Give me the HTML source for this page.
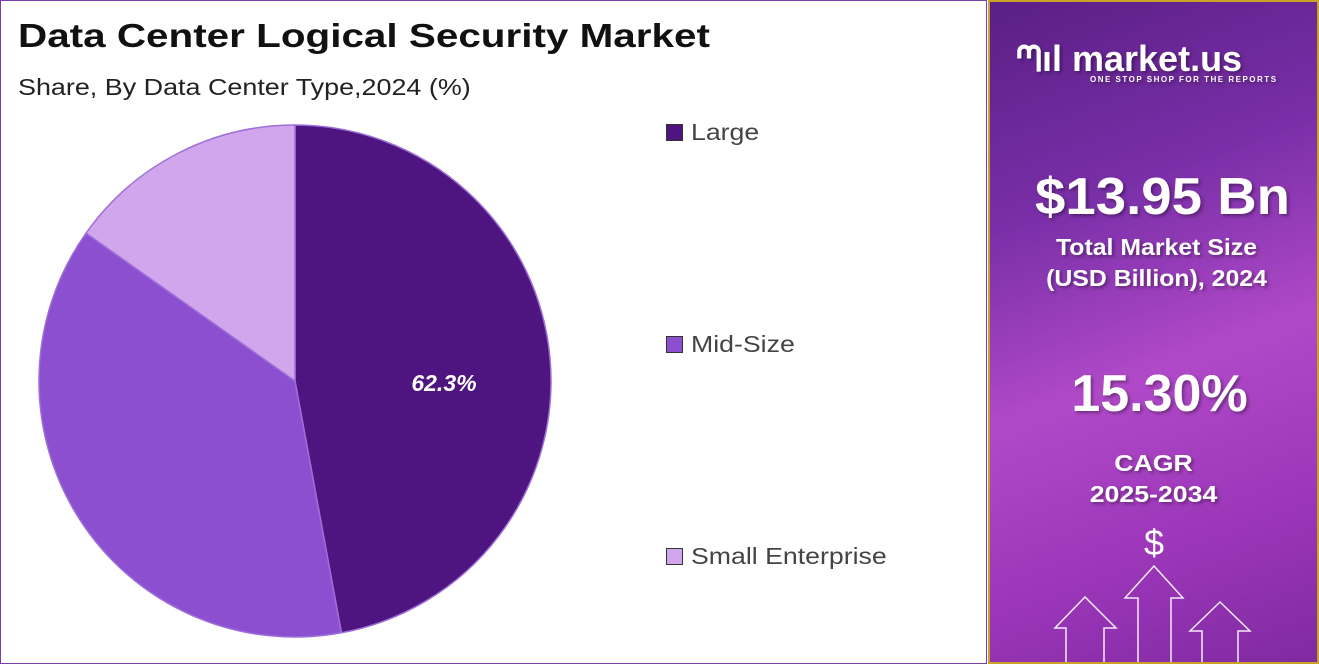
<!DOCTYPE html>
<html><head><meta charset="utf-8">
<style>
*{margin:0;padding:0;box-sizing:border-box}
body{width:1319px;height:664px;background:#fff;font-family:"Liberation Sans",sans-serif;position:relative;overflow:hidden}
#left{position:absolute;left:0;top:0;width:987px;height:664px;border:1.5px solid #7a3fa6;background:#fff}
#title{position:absolute;left:17px;top:16px;font-size:33px;font-weight:bold;color:#111;transform:scaleX(1.225);transform-origin:left top;white-space:nowrap}
#subtitle{position:absolute;left:17px;top:73px;font-size:23px;color:#222;transform:scaleX(1.17);transform-origin:left top;white-space:nowrap}
.leg{position:absolute;left:665px;font-size:23px;color:#444;display:flex;align-items:center;white-space:nowrap}
.leg i{display:inline-block;width:17px;height:17px;border:1.5px solid #333;margin-right:8px}
.leg span{display:inline-block;transform:scaleX(1.16);transform-origin:left center}
#right{position:absolute;left:988px;top:0;width:331px;height:664px;border:2px solid #c9a227;
background:linear-gradient(160deg,#5a1f86 0%,#7a2fa8 30%,#b049c8 55%,#9a35b8 80%,#7f2aa0 100%);color:#fff;text-align:center;overflow:hidden}
.t{position:absolute;width:100%;font-weight:bold;text-shadow:2px 2px 3px rgba(0,0,0,.35);white-space:nowrap}
</style></head><body>
<div id="left">
<div id="title">Data Center Logical Security Market</div>
<div id="subtitle">Share, By Data Center Type,2024 (%)</div>
<svg id="pie" width="987" height="664" style="position:absolute;left:0;top:0"></svg>
<div class="leg" style="top:118px"><i style="background:#4e1580"></i><span>Large</span></div>
<div class="leg" style="top:330px"><i style="background:#8b4fd0"></i><span>Mid-Size</span></div>
<div class="leg" style="top:542px"><i style="background:#d2a6ec"></i><span>Small Enterprise</span></div>
</div>
<div id="right">
<div class="t" style="top:36px;font-size:36px;left:26px;text-align:left">ᘉıl market.us</div>
<div class="t" style="top:73px;font-size:8px;left:100px;text-align:left;letter-spacing:1.5px">ONE STOP SHOP FOR THE REPORTS</div>
<div class="t" style="top:165px;font-size:52px;left:9px;transform:scaleX(1.05)">$13.95 Bn</div>
<div class="t" style="top:230px;font-size:23px;line-height:31px;left:3px;transform:scaleX(1.08)">Total Market Size<br>(USD Billion), 2024</div>
<div class="t" style="top:362px;font-size:52px;left:6px">15.30%</div>
<div class="t" style="top:446px;font-size:23px;line-height:31px;left:0px;transform:scaleX(1.16)">CAGR<br>2025-2034</div>
<div style="position:absolute;top:520px;left:154px;font-size:36px">$</div>
<svg width="331" height="664" style="position:absolute;left:-2px;top:-2px">
<g fill="none" stroke="#fff" stroke-width="1.5" opacity="0.9">
<path d="M150,664V598H137L166,566L195,598H183V664"/>
<path d="M78,664V628H67L97,597L128,628H116V664"/>
<path d="M214,664V631H202L232,602L262,631H250V664"/>
</g></svg>
</div>
<script>
const categories=["Large","Mid-Size","Small Enterprise"];
const values=[47.1,37.7,15.2];
const printedLabels=["62.3%","",""];
const colors=["#4e1580","#8b4fd0","#d2a6ec"];
const svg=document.getElementById('pie');
const NS='http://www.w3.org/2000/svg';
const cx=294,cy=380,r=256;
const total=values.reduce((a,b)=>a+b,0);
function pt(f,rr){const a=f*2*Math.PI;return [cx+rr*Math.sin(a),cy-rr*Math.cos(a)];}
let acc=0;
values.forEach((v,i)=>{
 const f0=acc/total,f1=(acc+v)/total;acc+=v;
 const [x0,y0]=pt(f0,r),[x1,y1]=pt(f1,r);
 const p=document.createElementNS(NS,'path');
 p.setAttribute('d',`M${cx},${cy}L${x0},${y0}A${r},${r} 0 ${f1-f0>0.5?1:0} 1 ${x1},${y1}Z`);
 p.setAttribute('fill',colors[i]);p.setAttribute('stroke','#9d6fd8');p.setAttribute('stroke-width','1.5');
 
 
 svg.appendChild(p);
 if(printedLabels[i]){
  const [lx,ly]=pt((f0+f1)/2,r*0.6);
  const t=document.createElementNS(NS,'text');
  t.setAttribute('x',lx-4);t.setAttribute('y',ly+24);t.setAttribute('text-anchor','middle');
  t.setAttribute('fill','#fff');t.setAttribute('font-size','23');t.setAttribute('font-weight','bold');t.setAttribute('font-style','italic');
  t.setAttribute('font-family','Liberation Sans, sans-serif');
  t.textContent=printedLabels[i];
  
  
  svg.appendChild(t);
 }
});
</script>
</body></html>
